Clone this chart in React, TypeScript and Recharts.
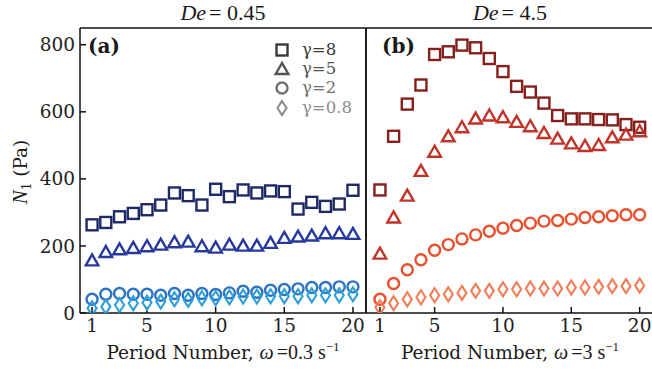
import React from "react";
import { ScatterChart, Scatter, XAxis, YAxis } from "recharts";

// period numbers (x categories)
const periods = [1, 2, 3, 4, 5, 6, 7, 8, 9, 10, 11, 12, 13, 14, 15, 16, 17, 18, 19, 20];
const xTicks = [1, 5, 10, 15, 20];
const yTicks = [0, 200, 400, 600, 800];

// De = 0.45, omega = 0.3 1/s
const g8Low = [263, 270, 287, 297, 308, 322, 358, 350, 322, 369, 347, 367, 358, 364, 362, 310, 330, 318, 325, 366];
const g5Low = [157, 182, 190, 194, 199, 204, 211, 213, 199, 195, 204, 201, 201, 209, 224, 228, 231, 238, 238, 236];
const g2Low = [41, 56, 58, 56, 56, 53, 58, 53, 58, 55, 60, 65, 62, 68, 70, 72, 76, 76, 78, 78];
const g08Low = [14, 19, 24, 29, 31, 34, 41, 39, 44, 44, 47, 49, 49, 50, 50, 50, 53, 53, 53, 56];

// De = 4.5, omega = 3 1/s
const g8High = [367, 527, 623, 680, 771, 779, 799, 791, 759, 720, 676, 659, 626, 589, 579, 579, 577, 576, 562, 554];
const g5High = [177, 285, 350, 424, 481, 527, 554, 580, 589, 584, 570, 557, 537, 520, 506, 498, 501, 524, 532, 542];
const g2High = [41, 88, 129, 159, 187, 204, 221, 233, 244, 253, 261, 268, 274, 276, 280, 285, 287, 290, 293, 293];
const g08High = [17, 29, 41, 47, 53, 56, 60, 66, 66, 71, 71, 73, 73, 73, 76, 76, 78, 80, 80, 82];

const legendItems = [
  { kind: "square", label: "γ=8", color: "#3a3a3a" },
  { kind: "triangle", label: "γ=5", color: "#555555" },
  { kind: "circle", label: "γ=2", color: "#707070" },
  { kind: "diamond", label: "γ=0.8", color: "#8c8c8c" },
];

const serif = "'DejaVu Serif', serif";
const math = "'Liberation Serif', serif";
const ink = "#111";

const toPts = (vals: number[]) => periods.map((p, i) => ({ x: p, y: vals[i] }));

function Marker({ cx, cy, kind, color }: { cx: number; cy: number; kind: string; color: string }) {
  if (cx == null || cy == null) return null;
  const sw = 2.4;
  if (kind === "square")
    return <rect x={cx - 5.5} y={cy - 5.5} width={11} height={11} fill="none" stroke={color} strokeWidth={sw} />;
  if (kind === "triangle")
    return (
      <polygon
        points={`${cx},${cy - 6} ${cx - 6.3},${cy + 5} ${cx + 6.3},${cy + 5}`}
        fill="none" stroke={color} strokeWidth={sw}
      />
    );
  if (kind === "circle") return <circle cx={cx} cy={cy} r={5.5} fill="none" stroke={color} strokeWidth={sw} />;
  return (
    <polygon
      points={`${cx},${cy - 7} ${cx + 4.5},${cy} ${cx},${cy + 7} ${cx - 4.5},${cy}`}
      fill="none" stroke={color} strokeWidth={2.1}
    />
  );
}

type Series = { values: number[]; kind: string; color: string };

const lowSeries: Series[] = [
  { values: g8Low, kind: "square", color: "#1e2a66" },
  { values: g5Low, kind: "triangle", color: "#27399c" },
  { values: g2Low, kind: "circle", color: "#2f74c4" },
  { values: g08Low, kind: "diamond", color: "#2c9fd9" },
];

const highSeries: Series[] = [
  { values: g8High, kind: "square", color: "#85201c" },
  { values: g5High, kind: "triangle", color: "#c0352a" },
  { values: g2High, kind: "circle", color: "#e8512e" },
  { values: g08High, kind: "diamond", color: "#f27c58" },
];

const tickStyle = { fill: "#222", fontSize: 18.5, fontFamily: serif };
const lineStyle = { stroke: ink, strokeWidth: 1.5 };

function Panel({ left, width, margin, domainX, series, yWidth, showY }: any) {
  return (
    <div style={{ position: "absolute", left, top: 0 }}>
      <ScatterChart width={width} height={370} margin={margin}>
        <XAxis
          xAxisId="b" type="number" dataKey="x" domain={domainX} allowDataOverflow
          ticks={xTicks} interval={0} tickSize={-6} tickMargin={12} height={57}
          tick={tickStyle} axisLine={lineStyle} tickLine={lineStyle}
        />
        <XAxis
          xAxisId="t" orientation="top" type="number" domain={domainX} allowDataOverflow
          ticks={xTicks} interval={0} tickSize={-6} height={1}
          tick={false} axisLine={lineStyle} tickLine={lineStyle}
        />
        <YAxis
          yAxisId="l" type="number" dataKey="y" domain={[0, 850]} allowDataOverflow
          ticks={yTicks} interval={0} tickSize={-6} tickMargin={11} width={yWidth}
          tick={showY ? tickStyle : false} axisLine={lineStyle} tickLine={lineStyle}
        />
        <YAxis
          yAxisId="r" orientation="right" type="number" domain={[0, 850]} allowDataOverflow
          ticks={yTicks} interval={0} tickSize={-6} width={1}
          tick={false} axisLine={lineStyle} tickLine={lineStyle}
        />
        {series.map((s: Series, i: number) => (
          <Scatter
            key={i}
            xAxisId="b"
            yAxisId="l"
            data={toPts(s.values)}
            isAnimationActive={false}
            shape={(p: any) => <Marker cx={p.cx} cy={p.cy} kind={s.kind} color={s.color} />}
          />
        ))}
      </ScatterChart>
    </div>
  );
}

function LegendMark({ kind, color }: { kind: string; color: string }) {
  return (
    <svg width={18} height={18} style={{ display: "block" }}>
      <Marker cx={9} cy={9} kind={kind} color={color} />
    </svg>
  );
}

const abs = (s: React.CSSProperties): React.CSSProperties => ({ position: "absolute", whiteSpace: "nowrap", ...s });

export default function App() {
  return (
    <div
      style={{
        position: "absolute", left: 0, top: 0, width: 652, height: 370,
        overflow: "hidden", background: "#fff", fontFamily: serif, color: "#1a1a1a",
      }}
    >
      <Panel left={0} width={373} margin={{ top: 27, right: 6, bottom: 0, left: 20 }}
        domainX={[0.12, 20.95]} series={lowSeries} yWidth={60} showY />
      <Panel left={326} width={340} margin={{ top: 27, right: 11, bottom: 0, left: 0 }}
        domainX={[-0.02, 21.05]} series={highSeries} yWidth={40} showY={false} />

      {/* titles */}
      <div style={abs({ left: 80, width: 286, top: 2, textAlign: "center", fontFamily: math, fontSize: 22, lineHeight: "22px" })}>
        <i style={{ paddingRight: 3 }}>De</i>= 0.45
      </div>
      <div style={abs({ left: 366, width: 288, top: 2, textAlign: "center", fontFamily: math, fontSize: 22, lineHeight: "22px" })}>
        <i style={{ paddingRight: 3 }}>De</i>= 4.5
      </div>

      {/* panel tags */}
      <div style={abs({ left: 88, top: 34, fontWeight: "bold", fontSize: 20 })}>(a)</div>
      <div style={abs({ left: 382, top: 34, fontWeight: "bold", fontSize: 20 })}>(b)</div>

      {/* legend */}
      <div style={abs({ left: 273, top: 40 })}>
        {legendItems.map((it) => (
          <div key={it.label} style={{ display: "flex", alignItems: "center", height: 19.4 }}>
            <LegendMark kind={it.kind} color={it.color} />
            <span style={{ marginLeft: 11, fontSize: 16.5, color: it.color, lineHeight: "18px" }}>
              {it.label}
            </span>
          </div>
        ))}
      </div>

      {/* axis labels */}
      <div style={abs({ left: 80, width: 286, top: 339, textAlign: "center", fontSize: 18.5 })}>
        Period Number, <span style={{ fontFamily: math, fontSize: 20 }}><i style={{ paddingRight: 3 }}>ω</i>=0.3 s<sup style={{ fontSize: 13 }}>−1</sup></span>
      </div>
      <div style={abs({ left: 366, width: 288, top: 339, textAlign: "center", fontSize: 18.5 })}>
        Period Number, <span style={{ fontFamily: math, fontSize: 20 }}><i style={{ paddingRight: 3 }}>ω</i>=3 s<sup style={{ fontSize: 13 }}>−1</sup></span>
      </div>
      <div style={abs({ left: 21, top: 172, transform: "translate(-50%, -50%) rotate(-90deg)", fontSize: 18.5 })}>
        <i style={{ fontFamily: math, fontSize: 21 }}>N</i>
        <sub style={{ fontSize: 12 }}>1</sub> (Pa)
      </div>
    </div>
  );
}
